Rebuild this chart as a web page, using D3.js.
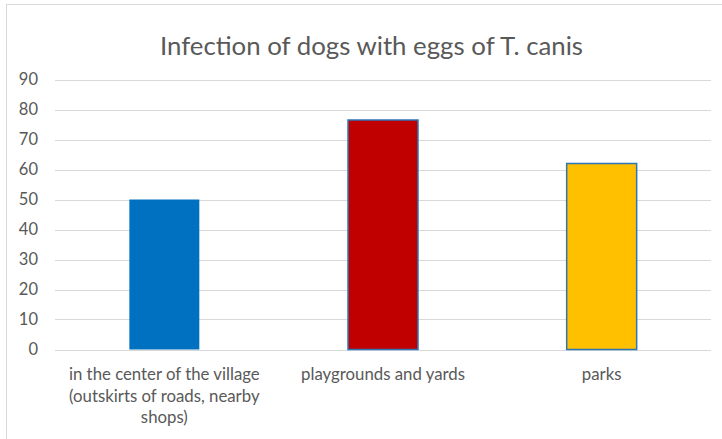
<!DOCTYPE html>
<html><head><meta charset="utf-8">
<script src="https://cdn.jsdelivr.net/npm/d3@7"></script>
<style>html,body{margin:0;padding:0;background:#fff;} svg{display:block;}</style>
</head><body>
<script>
const title = "Infection of dogs with eggs of T. canis";
const categories = [
  ["in the center of the village", "(outskirts of roads, nearby", "shops)"],
  ["playgrounds and yards"],
  ["parks"]
];
const values = [50, 76.5, 62];
const barColors = ["#0070C0", "#C00000", "#FFC000"];
const yTicks = [0,10,20,30,40,50,60,70,80,90];

(function(){
const W = 722, H = 439;
const svg = d3.select("body").append("svg").attr("width", W).attr("height", H);
const font = "Lato, 'Open Sans', sans-serif";

// frame
svg.append("rect").attr("x",6.5).attr("y",4.5).attr("width",W+10).attr("height",H+10)
  .attr("fill","#fff").attr("stroke","#D9D9D9").attr("stroke-width",1);

const pLeft = 55, pRight = 711, pTop = 79.5, pBottom = 349.5;
const x = d3.scaleBand().domain(d3.range(categories.length)).range([pLeft, pRight])
  .paddingInner(0.68).paddingOuter(0.34);
const y = d3.scaleLinear().domain([0, 90]).range([pBottom, pTop]);

// gridlines
svg.append("g").selectAll("line").data(yTicks).join("line")
  .attr("x1", pLeft).attr("x2", pRight)
  .attr("y1", d => Math.round(y(d)) + 0.5).attr("y2", d => Math.round(y(d)) + 0.5)
  .attr("stroke", "#D9D9D9").attr("stroke-width", 1);

// y axis labels
const yAxis = d3.axisLeft(y).tickValues(yTicks).tickSize(0).tickPadding(0);
const gy = svg.append("g").attr("transform", `translate(38,0)`).call(yAxis);
gy.select(".domain").remove();
gy.selectAll("text").attr("fill", "#595959").style("font-family", font).style("font-size", "16.5px");

// bars
svg.append("g").selectAll("rect").data(values).join("rect")
  .attr("x", (d,i) => x(i)).attr("width", x.bandwidth())
  .attr("y", d => y(d)).attr("height", d => y(0) - y(d))
  .attr("fill", (d,i) => barColors[i])
  .attr("stroke", (d,i) => i === 0 ? "none" : "#2E75B6")
  .attr("stroke-width", 1.5);

// x labels
const xl = svg.append("g");
categories.forEach((lines, i) => {
  const t = xl.append("text").attr("text-anchor", "middle")
    .attr("fill", "#595959").style("font-family", font).style("font-size", "16.8px");
  lines.forEach((ln, j) => {
    t.append("tspan").attr("x", x(i) + x.bandwidth()/2).attr("y", 380 + j*21.5).text(ln);
  });
});

// title
svg.append("text").attr("x", 371.5).attr("y", 55).attr("text-anchor", "middle")
  .attr("fill", "#595959").style("font-family", font).style("font-size", "25.8px").text(title);
})();
</script>
</body></html>
